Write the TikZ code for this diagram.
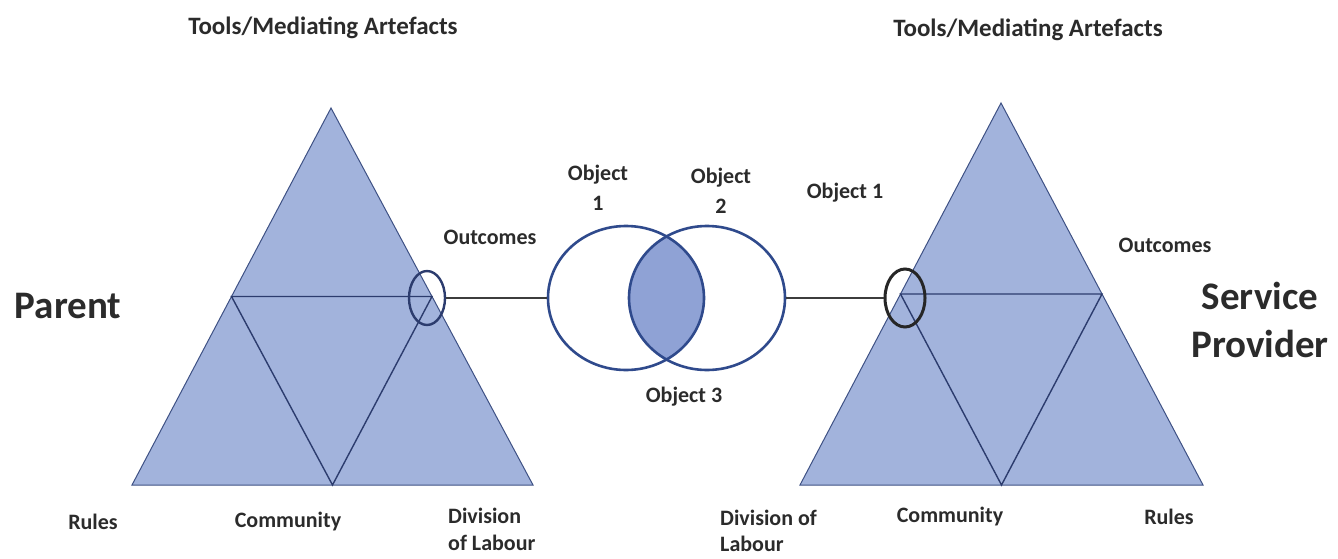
\documentclass[tikz,border=0pt]{standalone}
\usepackage{fontspec}
\setmainfont{Carlito}
\usetikzlibrary{shapes.geometric,calc}

\definecolor{trifill}{HTML}{A2B3DC}
\definecolor{triedge}{HTML}{3E5184}
\definecolor{innerline}{HTML}{2C3C6E}
\definecolor{ringblue}{HTML}{2F4A8C}
\definecolor{lensfill}{HTML}{8FA2D5}
\definecolor{labelgray}{HTML}{2B2B2B}
\definecolor{linkgray}{HTML}{3C3C3C}

\begin{document}
\begin{tikzpicture}[x=1pt,y=-1pt,
  lbl/.style={text=labelgray, inner sep=0pt, align=center,
    font=\fontsize{22}{30}\selectfont\bfseries},
  toollbl/.style={lbl, font=\fontsize{25}{30}\selectfont\bfseries},
  biglbl/.style={lbl, font=\fontsize{39}{48}\selectfont\bfseries},
  tri/.style={fill=trifill, draw=triedge, line width=1pt, line join=miter},
  inner/.style={draw=innerline, line width=1.4pt},
  ring/.style={ellipse, draw=ringblue, line width=2.6pt, inner sep=0pt,
    minimum width=156pt, minimum height=144pt},
  focus/.style={ellipse, inner sep=0pt, minimum width=36pt, minimum height=54pt},
  link/.style={draw=linkgray, line width=1.3pt}]

\useasboundingbox (0,0) rectangle (1338,559);

% ---- left activity system (parent) ----
\coordinate (LA) at (331,108);
\coordinate (LB) at (132,485);
\coordinate (LC) at (533,485);
\path[tri] (LA) -- (LB) -- (LC) -- cycle;
\coordinate (LAB) at ($(LA)!0.5!(LB)$);
\coordinate (LAC) at ($(LA)!0.5!(LC)$);
\coordinate (LBC) at ($(LB)!0.5!(LC)$);
\path[inner] (LAB) -- (LAC) -- (LBC) -- cycle;

% ---- right activity system (service provider) ----
\coordinate (RA) at (1001,103);
\coordinate (RB) at (800,485);
\coordinate (RC) at (1203,485);
\path[tri] (RA) -- (RB) -- (RC) -- cycle;
\coordinate (RAB) at ($(RA)!0.5!(RB)$);
\coordinate (RAC) at ($(RA)!0.5!(RC)$);
\coordinate (RBC) at ($(RB)!0.5!(RC)$);
\path[inner] (RAB) -- (RAC) -- (RBC) -- cycle;

% ---- shared object: two overlapping rings ----
\coordinate (o1) at (626,298);
\coordinate (o2) at (707,298);
\begin{scope}
  \clip (o1) ellipse [x radius=78, y radius=72];
  \fill[lensfill] (o2) ellipse [x radius=78, y radius=72];
\end{scope}
\node[ring] (c1) at (o1) {};
\node[ring] (c2) at (o2) {};

% ---- outcome markers and their links ----
\node[focus, draw=innerline, line width=2.4pt] (e1) at (427,298) {};
\node[focus, draw=black!85, line width=3pt, minimum width=40pt, minimum height=58pt] (e2) at (905,298) {};
\path[link] (e1.east) -- (c1.west);
\path[link] (c2.east) -- (e2.west);

% ---- labels ----
\node[toollbl] (toolsL) at (323,28) {Tools/Mediating Artefacts};
\node[toollbl] (toolsR) at (1028,30) {Tools/Mediating Artefacts};
\node[biglbl] (parent) at (68,306) {Parent};
\node[biglbl] (provider) at (1260,320) {Service\\Provider};
\node[lbl] (outL) at (490,237) {Outcomes};
\node[lbl] (outR) at (1165,245) {Outcomes};
\node[lbl] (ob1) at (598,188) {Object\\1};
\node[lbl] (ob2) at (721,191) {Object\\2};
\node[lbl] (ob1R) at (845,193) {Object 1};
\node[lbl] (ob3) at (684,397) {Object 3};
\node[lbl] (rulesL) at (93,522) {Rules};
\node[lbl] (commL) at (288,522) {Community};
\node[lbl, align=left, anchor=north west, font=\fontsize{22}{27}\selectfont\bfseries] (divL) at (448,508) {Division\\of Labour};
\node[lbl, align=left, anchor=north west, font=\fontsize{22}{26}\selectfont\bfseries] (divR) at (720,510) {Division of\\Labour};
\node[lbl] (commR) at (950,517) {Community};
\node[lbl] (rulesR) at (1169,517) {Rules};
\end{tikzpicture}
\end{document}
